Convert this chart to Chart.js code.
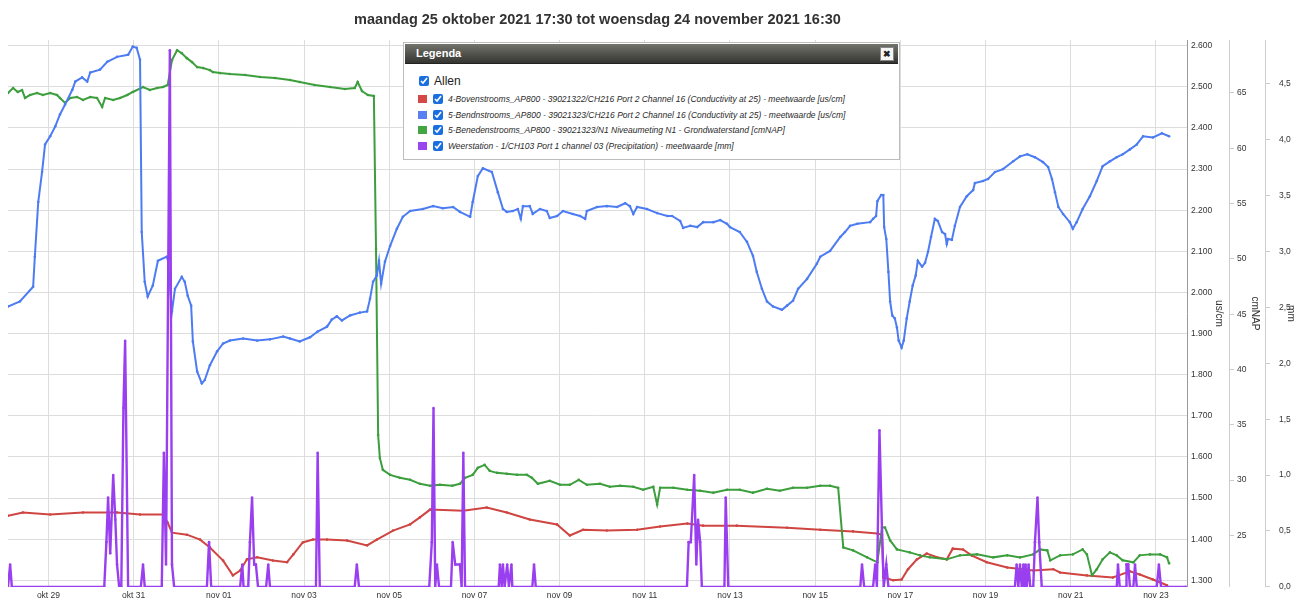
<!DOCTYPE html>
<html>
<head>
<meta charset="utf-8">
<script src="https://cdn.jsdelivr.net/npm/chart.js@4.4.0/dist/chart.umd.min.js"></script>
<style>
body { margin: 0; background: #fff; font-family: "Liberation Sans", Arial, sans-serif; }
#wrap { position: relative; width: 1298px; height: 601px; overflow: hidden; }
#grafiek { position: absolute; left: 0; top: 0; }
#legenda { position: absolute; left: 403px; top: 42px; width: 497px; height: 118px; box-sizing: border-box;
  border: 1px solid #bdbdbd; background: #fff; }
#legenda .kop { position: absolute; left: 1px; top: 1px; right: 1px; height: 19px; padding-left: 11px;
  background: linear-gradient(#74746d, #343431); border-bottom: 1px solid #222; 
  color: #fff; font-weight: bold; font-size: 11px; line-height: 19px; }
#legenda .sluit { position: absolute; right: 4px; top: 3px; width: 12px; height: 12px; background: #f5f5f5;
  border: 1px solid #888; color: #222; font-size: 9px; line-height: 12px; text-align: center; }
#legenda input { width: 10px; height: 10px; margin: 0; accent-color: #1a6fe0; }
#legenda .allen { position: absolute; left: 15px; top: 31px; height: 14px; display: flex; align-items: center;
  font-size: 12px; color: #222; }
#legenda .allen input { margin-right: 5px; }
#legenda .rij { position: absolute; left: 14px; height: 12px; display: flex; align-items: center;
  font-style: italic; font-size: 8.5px; color: #2a2a2a; white-space: nowrap; }
#legenda .kleur { width: 9px; height: 8px; margin-right: 6px; }
#legenda .rij input { margin-right: 5px; }
</style>
</head>
<body>
<div id="wrap">
  <canvas id="grafiek" width="1298" height="601"></canvas>
  <div id="legenda">
    <div class="kop">Legenda<span class="sluit">&#10006;</span></div>
    <label class="allen"><input type="checkbox" checked>Allen</label>
  </div>
</div>
<script>
// x in dagen op de as (0 = label "okt 29")
const xTicks = [0, 2, 4, 6, 8, 10, 12, 14, 16, 18, 20, 22, 24, 26];
const xLabels = ['okt 29', 'okt 31', 'nov 01', 'nov 03', 'nov 05', 'nov 07', 'nov 09',
  'nov 11', 'nov 13', 'nov 15', 'nov 17', 'nov 19', 'nov 21', 'nov 23'];
const usTicks = [1300, 1400, 1500, 1600, 1700, 1800, 1900, 2000, 2100, 2200, 2300, 2400, 2500, 2600];
const napTicks = [25, 30, 35, 40, 45, 50, 55, 60, 65];
const mmTicks = [0, 0.5, 1, 1.5, 2, 2.5, 3, 3.5, 4, 4.5];

const titel = 'maandag 25 oktober 2021 17:30 tot woensdag 24 november 2021 16:30';
const namen = [
  '4-Bovenstrooms_AP800 - 39021322/CH216 Port 2 Channel 16 (Conductivity at 25) - meetwaarde [us/cm]',
  '5-Bendnstrooms_AP800 - 39021323/CH216 Port 2 Channel 16 (Conductivity at 25) - meetwaarde [us/cm]',
  '5-Benedenstrooms_AP800 - 39021323/N1 Niveaumeting N1 - Grondwaterstand [cmNAP]',
  'Weerstation - 1/CH103 Port 1 channel 03 (Precipitation) - meetwaarde [mm]'
];
const kleuren = ['#cf4541', '#4d7cf2', '#3d9e3d', '#9a3ff0'];
const legendaKleuren = ['#d64848', '#5a7ff0', '#42a642', '#9a46f0'];

// us/cm
const boven = [[-0.95,1457],[-0.60,1465],[0.04,1460],[0.81,1465],[1.61,1465],[2.15,1460],[2.69,1460],[2.80,1440],
  [2.90,1416],[3.25,1411],[3.56,1399],[3.79,1380],[4.10,1348],[4.33,1312],[4.50,1324],[4.66,1351],[4.90,1356],
  [5.27,1348],[5.60,1344],[5.75,1363],[5.97,1392],[6.21,1399],[6.54,1399],[7.01,1397],[7.48,1385],[7.71,1399],
  [8.09,1421],[8.49,1436],[8.72,1453],[8.96,1472],[9.74,1469],[10.29,1477],[10.76,1465],[11.30,1448],[11.94,1436],
  [12.24,1409],[12.55,1423],[13.11,1421],[13.82,1423],[14.36,1431],[15.00,1438],[15.37,1433],[16.16,1433],
  [17.34,1428],[18.12,1423],[18.89,1419],[19.46,1414],[19.57,1411],[19.60,1307],[19.83,1300],[20.03,1302],
  [20.18,1327],[20.39,1351],[20.62,1365],[20.86,1356],[21.09,1351],[21.23,1377],[21.47,1375],[21.68,1360],
  [22.03,1344],[22.51,1331],[23.12,1324],[23.59,1327],[23.75,1319],[24.38,1312],[24.99,1307],[25.39,1322],
  [25.62,1314],[25.93,1302],[26.26,1288]];

// us/cm
const bendn = [[-0.95,1966],[-0.67,1978],[-0.36,2014],[-0.32,2087],[-0.24,2220],[-0.15,2293],[-0.08,2360],[0.04,2380],
  [0.16,2404],[0.27,2433],[0.39,2457],[0.56,2493],[0.63,2513],[0.79,2523],[0.91,2513],[0.98,2535],[1.21,2542],
  [1.38,2561],[1.61,2573],[1.87,2578],[1.98,2598],[2.07,2595],[2.15,2566],[2.19,2147],[2.26,2026],[2.33,1990],
  [2.45,2017],[2.57,2077],[2.78,2087],[2.80,2082],[2.90,1954],[2.97,2009],[3.13,2038],[3.20,2026],[3.27,1992],
  [3.35,1968],[3.39,1881],[3.49,1808],[3.60,1779],[3.67,1787],[3.79,1823],[3.96,1857],[4.10,1876],[4.26,1883],
  [4.57,1888],[4.90,1883],[5.20,1886],[5.51,1893],[5.67,1888],[5.90,1881],[6.14,1891],[6.32,1905],[6.54,1917],
  [6.65,1934],[6.77,1942],[6.89,1932],[7.08,1944],[7.31,1951],[7.48,1954],[7.55,1985],[7.62,2026],[7.71,2041],
  [7.76,2077],[7.81,2021],[7.90,2075],[8.02,2113],[8.18,2155],[8.32,2184],[8.49,2198],[8.79,2203],[9.03,2210],
  [9.26,2205],[9.50,2208],[9.66,2196],[9.90,2184],[9.96,2220],[10.08,2283],[10.20,2302],[10.41,2293],[10.55,2244],
  [10.67,2203],[10.76,2196],[10.90,2198],[11.02,2203],[11.09,2179],[11.14,2210],[11.30,2210],[11.37,2191],
  [11.54,2203],[11.70,2198],[11.77,2181],[11.94,2186],[12.08,2198],[12.31,2191],[12.48,2186],[12.60,2179],
  [12.64,2198],[12.88,2208],[13.11,2210],[13.35,2208],[13.54,2217],[13.65,2210],[13.73,2191],[13.82,2208],
  [14.05,2203],[14.29,2193],[14.53,2186],[14.64,2186],[14.83,2174],[14.90,2157],[15.07,2162],[15.23,2159],
  [15.37,2171],[15.61,2171],[15.77,2176],[15.93,2167],[16.00,2159],[16.23,2147],[16.40,2123],[16.54,2089],
  [16.63,2050],[16.75,2009],[16.87,1978],[17.01,1966],[17.22,1958],[17.34,1968],[17.48,1980],[17.60,2009],
  [17.81,2033],[18.04,2070],[18.12,2087],[18.35,2101],[18.59,2135],[18.70,2147],[18.82,2162],[18.99,2167],
  [19.29,2171],[19.36,2179],[19.43,2186],[19.46,2222],[19.55,2237],[19.60,2237],[19.62,2159],[19.67,2130],
  [19.72,2050],[19.76,1978],[19.81,1944],[19.87,1937],[19.92,1915],[19.96,1883],[20.03,1866],[20.08,1883],
  [20.15,1937],[20.22,1978],[20.29,2017],[20.36,2041],[20.41,2077],[20.51,2063],[20.58,2072],[20.65,2099],
  [20.72,2135],[20.81,2179],[20.88,2174],[20.98,2147],[21.05,2142],[21.09,2118],[21.12,2130],[21.21,2128],
  [21.28,2162],[21.40,2208],[21.56,2234],[21.71,2249],[21.75,2266],[21.94,2271],[22.06,2276],[22.22,2293],
  [22.41,2300],[22.65,2319],[22.81,2331],[22.98,2336],[23.16,2329],[23.35,2317],[23.47,2305],[23.56,2276],
  [23.63,2244],[23.71,2208],[23.82,2191],[23.98,2171],[24.05,2155],[24.14,2171],[24.28,2203],[24.45,2234],
  [24.61,2271],[24.75,2307],[24.92,2319],[25.08,2329],[25.22,2336],[25.39,2348],[25.55,2360],[25.70,2380],
  [25.93,2377],[26.14,2387],[26.31,2380]];

// cmNAP
const niveau = [[-0.95,65.0],[-0.83,65.45],[-0.72,65.09],[-0.62,65.27],[-0.55,64.55],[-0.43,64.82],[-0.27,65.0],
  [-0.13,64.82],[0.04,65.0],[0.20,64.82],[0.27,64.55],[0.39,64.10],[0.51,64.55],[0.67,64.64],[0.81,64.37],
  [0.98,64.64],[1.14,64.55],[1.26,63.74],[1.33,64.55],[1.52,64.37],[1.68,64.55],[1.85,64.82],[1.98,65.09],
  [2.22,65.54],[2.38,65.27],[2.55,65.45],[2.69,65.54],[2.80,65.72],[2.90,67.97],[3.02,68.87],[3.13,68.60],
  [3.25,68.15],[3.37,67.79],[3.49,67.34],[3.63,67.25],[3.79,67.07],[3.86,66.89],[4.03,66.80],[4.26,66.71],
  [4.62,66.62],[4.97,66.44],[5.32,66.35],[5.67,66.17],[5.90,65.99],[6.25,65.72],[6.61,65.54],[6.96,65.36],
  [7.19,65.45],[7.26,65.99],[7.36,65.18],[7.50,64.82],[7.64,64.73],[7.69,50.89],[7.74,34.08],[7.78,32.01],
  [7.85,30.93],[8.02,30.48],[8.25,30.21],[8.49,30.03],[8.72,29.67],[8.96,29.49],[9.19,29.58],[9.48,29.49],
  [9.66,29.67],[9.78,30.21],[9.96,30.48],[10.08,31.11],[10.24,31.38],[10.36,30.84],[10.53,30.66],[10.76,30.57],
  [11.00,30.48],[11.23,30.48],[11.35,30.21],[11.49,29.67],[11.77,29.94],[12.01,29.58],[12.24,29.58],[12.45,30.03],
  [12.64,29.58],[12.95,29.67],[13.18,29.40],[13.42,29.49],[13.73,29.40],[13.96,29.13],[14.20,29.40],[14.29,27.79],
  [14.36,29.31],[14.67,29.31],[15.00,29.13],[15.30,29.04],[15.61,28.87],[15.93,29.13],[16.23,29.13],[16.54,28.87],
  [16.87,29.22],[17.17,29.04],[17.48,29.31],[17.81,29.31],[18.12,29.49],[18.35,29.49],[18.54,29.31],[18.66,23.92],
  [18.89,23.65],[19.22,23.02],[19.46,22.57],[19.57,25.72],[19.64,25.72],[19.76,24.55],[19.92,23.74],[20.22,23.47],
  [20.46,23.20],[20.69,23.02],[21.09,22.84],[21.40,23.20],[21.80,23.29],[22.18,23.02],[22.51,23.20],[22.81,23.02],
  [23.12,23.29],[23.28,23.74],[23.45,23.65],[23.52,22.75],[23.75,23.20],[24.05,23.29],[24.28,23.74],[24.38,23.29],
  [24.50,21.40],[24.61,21.94],[24.75,22.84],[24.92,23.47],[25.08,23.20],[25.22,22.75],[25.47,22.57],[25.62,23.20],
  [25.86,23.29],[26.10,23.29],[26.26,23.02],[26.31,22.48]];

// mm
const neerslag = [[-0.95,0],[-0.90,0.2],[-0.86,0],
  [1.31,0],[1.36,0.4],[1.40,0.8],[1.45,0.3],[1.52,1.0],[1.57,0.6],[1.61,0.2],[1.66,0],
  [1.71,0],[1.76,1.6],[1.80,2.2],[1.87,0],
  [2.17,0],[2.22,0.2],[2.26,0],
  [2.66,0],[2.71,1.2],[2.76,0.2],[2.85,4.8],[2.90,0.2],[2.95,0],
  [3.72,0],[3.77,0.4],[3.82,0],
  [4.50,0],[4.55,0.2],[4.58,0],[4.69,0],[4.73,0.4],[4.78,0.8],[4.83,0.2],[4.87,0.2],[4.92,0],
  [5.11,0],[5.16,0.2],[5.20,0],
  [6.28,0],[6.32,1.2],[6.37,0],
  [7.19,0],[7.24,0.2],[7.29,0],
  [8.94,0],[9.00,0.4],[9.04,1.6],[9.08,0],[9.12,0.2],[9.17,0],
  [9.45,0],[9.49,0.4],[9.55,0.2],[9.66,0.2],[9.70,0],[9.74,1.2],[9.78,0],
  [10.57,0],[10.60,0.2],[10.64,0],[10.67,0.2],[10.71,0],[10.77,0.2],[10.81,0],[10.87,0.2],[10.89,0],
  [11.36,0],[11.40,0.2],[11.44,0],
  [14.99,0],[15.03,0.4],[15.08,0.4],[15.16,1.0],[15.21,0.2],[15.25,0.6],[15.30,0.4],[15.34,0],
  [15.87,0],[15.90,0.8],[15.96,0],
  [19.06,0],[19.10,0.2],[19.15,0],
  [19.36,0],[19.41,0.2],[19.45,0],[19.51,1.4],[19.57,0.5],[19.61,0],[19.67,0.2],[19.72,0],
  [22.69,0],[22.73,0.2],[22.77,0],[22.81,0.2],[22.85,0],[22.89,0.2],[22.91,0],[22.94,0.2],[22.97,0],[23.01,0.2],[23.05,0],
  [23.12,0],[23.16,0.4],[23.22,0.8],[23.26,0.4],[23.32,0],
  [25.08,0],[25.11,0.2],[25.15,0],[25.30,0],[25.31,0.2],[25.35,0.2],[25.39,0],[25.47,0],[25.51,0.2],[25.55,0],
  [26.02,0],[26.07,0.2],[26.12,0],[26.70,0]];

// legenda opbouwen
const legenda = document.getElementById('legenda');
namen.forEach((naam, i) => {
  const rij = document.createElement('div');
  rij.className = 'rij';
  rij.style.top = (50 + i * 15.7) + 'px';
  rij.innerHTML = `<span class="kleur" style="background:${legendaKleuren[i]}"></span><input type="checkbox" checked><span>${naam}</span>`;
  legenda.appendChild(rij);
});

const font = "'Liberation Sans', Arial, sans-serif";

function lijn(i, data, as, volgorde, dikte) {
  return {
    label: namen[i],
    data: data.map(([x, y]) => ({ x, y })),
    borderColor: kleuren[i],
    backgroundColor: kleuren[i],
    pointBackgroundColor: kleuren[i],
    borderWidth: dikte,
    pointRadius: 1.3,
    pointBorderWidth: 0,
    pointHoverRadius: 0,
    tension: 0,
    yAxisID: as,
    order: volgorde
  };
}

function breedte(w) {
  return scale => { scale.width = w; };
}

function usFormaat(v) {
  return Math.floor(v / 1000) + '.' + String(v % 1000).padStart(3, '0');
}

const ctx = document.getElementById('grafiek').getContext('2d');
new Chart(ctx, {
  type: 'line',
  data: {
    datasets: [
      lijn(0, boven, 'y', 3, 2),
      lijn(1, bendn, 'y', 1, 2),
      lijn(2, niveau, 'y1', 2, 2),
      lijn(3, neerslag, 'y2', 0, 2.4)
    ]
  },
  options: {
    responsive: false,
    devicePixelRatio: 1,
    animation: false,
    layout: { padding: { left: 8, right: 0, top: 0, bottom: 0 } },
    plugins: {
      legend: { display: false },
      tooltip: { enabled: false },
      title: {
        display: true,
        text: titel,
        fullSize: false,
        color: '#333',
        font: { family: font, size: 14.5, weight: 'bold' },
        padding: { top: 11, bottom: 11.6 }
      }
    },
    scales: {
      x: {
        type: 'linear',
        min: -0.95,
        max: 26.73,
        afterBuildTicks: axis => { axis.ticks = xTicks.map(v => ({ value: v })); },
        afterFit: scale => { scale.height = 11; },
        ticks: {
          autoSkip: false,
          maxRotation: 0,
          padding: 3.5,
          color: '#333',
          font: { family: font, size: 8.5 },
          callback: v => xLabels[xTicks.indexOf(v)]
        },
        grid: { color: '#dddddd', drawTicks: false },
        border: { display: false }
      },
      y: {
        position: 'right',
        weight: 0,
        min: 1284,
        max: 2614,
        afterBuildTicks: axis => { axis.ticks = usTicks.map(v => ({ value: v })); },
        afterFit: breedte(42),
        ticks: {
          padding: 4,
          color: '#333',
          font: { family: font, size: 8.5 },
          callback: v => usFormaat(v)
        },
        grid: { color: '#dddddd', drawTicks: false },
        border: { color: '#999' },
        title: { display: true, text: 'us/cm', color: '#333', font: { family: font, size: 10 },
          padding: { top: 4, bottom: 0 } }
      },
      y1: {
        position: 'right',
        weight: 1,
        min: 20.35,
        max: 69.79,
        afterBuildTicks: axis => { axis.ticks = napTicks.map(v => ({ value: v })); },
        afterFit: breedte(36),
        ticks: {
          padding: 3,
          color: '#333',
          font: { family: font, size: 8.5 },
          callback: v => String(v)
        },
        grid: { drawOnChartArea: false, tickLength: 5, color: '#cccccc' },
        border: { color: '#cccccc' },
        title: { display: true, text: 'cmNAP', color: '#333', font: { family: font, size: 10 },
          padding: { top: 4.5, bottom: 0 } }
      },
      y2: {
        position: 'right',
        weight: 2,
        min: 0,
        max: 4.891,
        afterBuildTicks: axis => { axis.ticks = mmTicks.map(v => ({ value: v })); },
        afterFit: breedte(33),
        ticks: {
          padding: 9,
          color: '#333',
          font: { family: font, size: 8.5 },
          callback: v => v.toFixed(1).replace('.', ',')
        },
        grid: { drawOnChartArea: false, tickLength: 5, color: '#cccccc' },
        border: { color: '#cccccc' },
        title: { display: true, text: 'mm', color: '#333', font: { family: font, size: 10 },
          padding: { top: 1.5, bottom: 0 } }
      }
    }
  }
});
</script>
</body>
</html>
